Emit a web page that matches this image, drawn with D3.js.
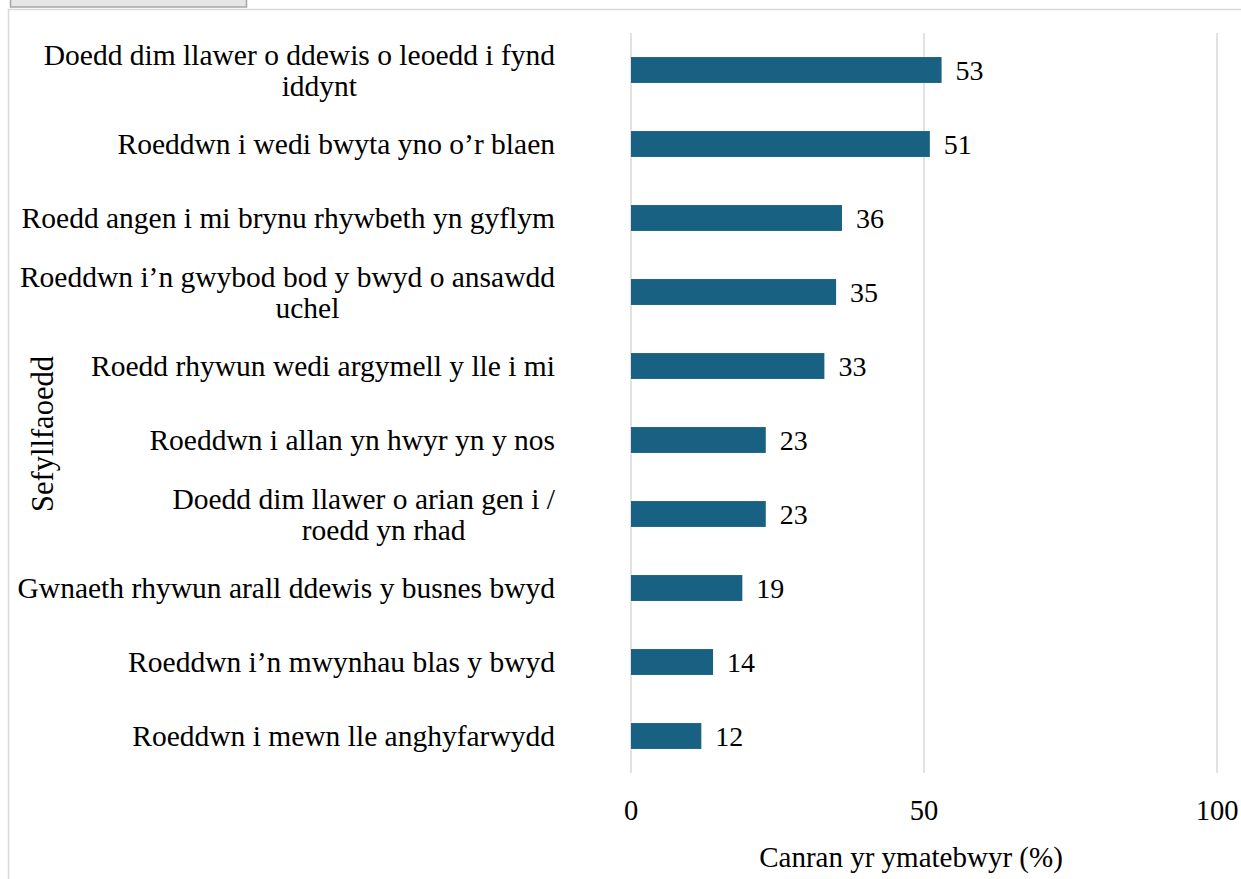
<!DOCTYPE html>
<html><head><meta charset="utf-8">
<script src="https://cdn.jsdelivr.net/npm/d3@7"></script>
<style>body{margin:0;background:#fff}svg{display:block}</style>
</head><body>
<script>
const categories = [
  "Doedd dim llawer o ddewis o leoedd i fynd iddynt",
  "Roeddwn i wedi bwyta yno o’r blaen",
  "Roedd angen i mi brynu rhywbeth yn gyflym",
  "Roeddwn i’n gwybod bod y bwyd o ansawdd uchel",
  "Roedd rhywun wedi argymell y lle i mi",
  "Roeddwn i allan yn hwyr yn y nos",
  "Doedd dim llawer o arian gen i / roedd yn rhad",
  "Gwnaeth rhywun arall ddewis y busnes bwyd",
  "Roeddwn i’n mwynhau blas y bwyd",
  "Roeddwn i mewn lle anghyfarwydd"
];
const labelLines = [
  ["Doedd dim llawer o ddewis o leoedd i fynd", "iddynt"],
  ["Roeddwn i wedi bwyta yno o’r blaen"],
  ["Roedd angen i mi brynu rhywbeth yn gyflym"],
  ["Roeddwn i’n gwybod bod y bwyd o ansawdd", "uchel"],
  ["Roedd rhywun wedi argymell y lle i mi"],
  ["Roeddwn i allan yn hwyr yn y nos"],
  ["Doedd dim llawer o arian gen i /", "roedd yn rhad"],
  ["Gwnaeth rhywun arall ddewis y busnes bwyd"],
  ["Roeddwn i’n mwynhau blas y bwyd"],
  ["Roeddwn i mewn lle anghyfarwydd"]
];
const values = [53, 51, 36, 35, 33, 23, 23, 19, 14, 12];
const xTicks = [0, 50, 100];
const xTitle = "Canran yr ymatebwyr (%)";
const yTitle = "Sefyllfaoedd";

const W = 1241, H = 879;
const font = "'Liberation Serif','Times New Roman',serif";
const svg = d3.select("body").append("svg").attr("width", W).attr("height", H);

// top box & frame
svg.append("rect").attr("x", 10.5).attr("y", -2).attr("width", 236).attr("height", 9)
  .attr("fill", "#e6e6e6").attr("stroke", "#a6a6a6").attr("stroke-width", 1.5);
svg.append("rect").attr("x", 8.5).attr("y", 9.5).attr("width", W).attr("height", H)
  .attr("fill", "none").attr("stroke", "#d9d9d9").attr("stroke-width", 1.5);

const x = d3.scaleLinear().domain([0, 100]).range([631, 1217]);
const y = d3.scaleBand().domain(categories).range([33, 773]).paddingInner(0.65).paddingOuter(0.325);

const g = svg.append("g");
g.selectAll("line.grid").data(xTicks).join("line")
  .attr("x1", d => x(d)).attr("x2", d => x(d)).attr("y1", 33).attr("y2", 773)
  .attr("stroke", "#d9d9d9").attr("stroke-width", 1.5);

g.selectAll("rect.bar").data(values).join("rect")
  .attr("x", x(0)).attr("y", (d, i) => y(categories[i]))
  .attr("width", d => x(d) - x(0)).attr("height", y.bandwidth())
  .attr("fill", "#186183");

g.selectAll("text.val").data(values).join("text")
  .attr("x", d => x(d) + 14).attr("y", (d, i) => y(categories[i]) + y.bandwidth() / 2)
  .attr("dy", "0.35em").attr("font-family", font).attr("font-size", 28).attr("fill", "#000")
  .text(d => d);

const labelRight = 555, lh = 31;
g.selectAll("text.cat").data(categories).join("text")
  .attr("font-family", font).attr("font-size", 29.5).attr("fill", "#000")
  .each(function(d, i) {
    const lines = labelLines[i];
    const cy = y(d) + y.bandwidth() / 2;
    const t = d3.select(this);
    const spans = lines.map((ln, k) => t.append("tspan")
      .attr("y", cy + (k - (lines.length - 1) / 2) * lh).attr("dy", "0.35em").text(ln));
    const w0 = spans[0].node().getComputedTextLength();
    spans[0].attr("x", labelRight - w0);
    const c0 = labelRight - w0 / 2 + 20;
    spans.slice(1).forEach(s => {
      const w = s.node().getComputedTextLength();
      s.attr("x", c0 - w / 2);
    });
  });

g.selectAll("text.tick").data(xTicks).join("text")
  .attr("x", d => x(d)).attr("y", 810).attr("dy", "0.35em").attr("text-anchor", "middle")
  .attr("font-family", font).attr("font-size", 28.5).text(d => d);

svg.append("text").attr("x", 911).attr("y", 857).attr("dy", "0.35em").attr("text-anchor", "middle")
  .attr("font-family", font).attr("font-size", 29).text(xTitle);

svg.append("text").attr("transform", "translate(42,434) rotate(-90)").attr("dy", "0.35em")
  .attr("text-anchor", "middle").attr("font-family", font).attr("font-size", 30.5).text(yTitle);
</script>
</body></html>
